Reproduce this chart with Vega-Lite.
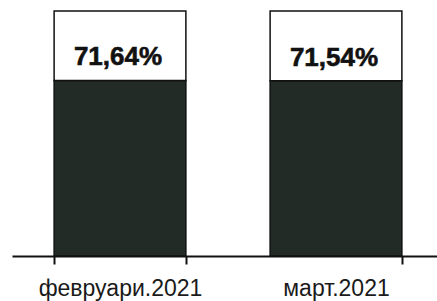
{
  "$schema": "https://vega.github.io/schema/vega-lite/v6.json",
  "autosize": "none",
  "width": 432,
  "height": 245,
  "padding": {"left": 12, "top": 11, "right": 0, "bottom": 45},
  "background": "white",
  "config": {"view": {"stroke": null}},
  "data": {
    "values": [
      {"month": "февруари.2021", "seg": "a", "value": 71.64, "label": "71,64%"},
      {"month": "февруари.2021", "seg": "b", "value": 28.36, "label": ""},
      {"month": "март.2021", "seg": "a", "value": 71.54, "label": "71,54%"},
      {"month": "март.2021", "seg": "b", "value": 28.46, "label": ""}
    ]
  },
  "encoding": {
    "x": {
      "field": "month",
      "type": "nominal",
      "sort": null,
      "scale": {"paddingInner": 0.39, "paddingOuter": 0.195},
      "axis": {
        "title": null,
        "labelAngle": 0,
        "domainColor": "#111111",
        "domainWidth": 2,
        "tickColor": "#111111",
        "tickWidth": 2,
        "tickSize": 8,
        "tickBand": "extent",
        "labelFont": "Liberation Sans",
        "labelFontSize": 23,
        "labelColor": "#1a1a1a",
        "labelPadding": 13,
        "labelBaseline": "top"
      }
    }
  },
  "layer": [
    {
      "mark": {"type": "bar", "stroke": "#111111", "strokeWidth": 1.5},
      "encoding": {
        "y": {"field": "value", "type": "quantitative", "stack": "zero", "scale": {"domain": [0, 100], "nice": false}, "axis": null},
        "color": {"field": "seg", "type": "nominal", "scale": {"domain": ["a", "b"], "range": ["#232b26", "#ffffff"]}, "legend": null},
        "order": {"field": "seg", "type": "nominal", "sort": "ascending"}
      }
    },
    {
      "transform": [{"filter": "datum.seg == 'a'"}],
      "mark": {"type": "text", "font": "Liberation Sans", "fontWeight": "bold", "fontSize": 26, "color": "#111111", "stroke": "#111111", "strokeWidth": 0.6, "baseline": "alphabetic", "dy": -15, "dx": -2},
      "encoding": {
        "y": {"field": "value", "type": "quantitative", "scale": {"domain": [0, 100], "nice": false}},
        "text": {"field": "label"}
      }
    }
  ]
}
